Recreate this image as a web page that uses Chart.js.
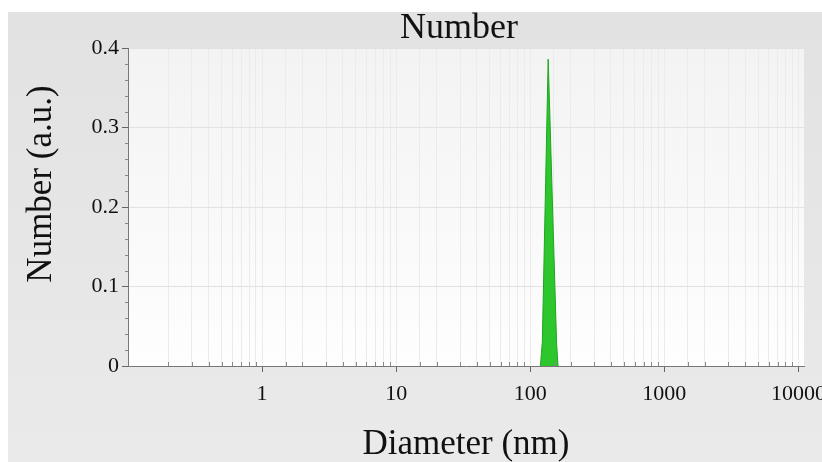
<!DOCTYPE html>
<html>
<head>
<meta charset="utf-8">
<style>
  html, body { margin: 0; padding: 0; background: #ffffff; }
  #wrap { position: absolute; left: 0; top: 0; width: 822px; height: 462px; }
</style>
<script src="https://cdn.jsdelivr.net/npm/chart.js@4.4.0/dist/chart.umd.min.js"></script>
</head>
<body>
<div id="wrap"><canvas id="c" width="822" height="462"></canvas></div>
<script>
// ---- data ----
const diameters = [119, 123, 136, 157, 161];      // nm
const numberValues = [0, 0.03, 0.386, 0.03, 0];   // a.u.
const xTickLabels = [1, 10, 100, 1000, 10000];
const yTickLabels = [0, 0.1, 0.2, 0.3, 0.4];
const chartTitle = 'Number';
const xTitle = 'Diameter (nm)';
const yTitle = 'Number (a.u.)';

const serif = "'Liberation Serif', 'DejaVu Serif', serif";

const points = diameters.map((d, i) => ({ x: d, y: numberValues[i] }));

const isMajorX = v => xTickLabels.some(t => Math.abs(v - t) / t < 1e-6);
const isMajorY = v => Math.abs(v * 10 - Math.round(v * 10)) < 1e-6;

const bgPlugin = {
  id: 'bg',
  beforeDraw(chart) {
    const ctx = chart.ctx;
    const W = chart.width, H = chart.height;
    ctx.save();
    const g = ctx.createLinearGradient(0, 12, 0, H);
    g.addColorStop(0, '#e2e2e2');
    g.addColorStop(1, '#eaeaea');
    ctx.fillStyle = g;
    ctx.fillRect(8, 12, W - 8, H - 12);
    const a = chart.chartArea;
    const g2 = ctx.createLinearGradient(0, a.top, 0, a.bottom);
    g2.addColorStop(0, '#f3f3f3');
    g2.addColorStop(1, '#fefefe');
    ctx.fillStyle = g2;
    ctx.fillRect(a.left, a.top, a.right - a.left, a.bottom - a.top);
    ctx.restore();
  }
};

const decor = {
  id: 'decor',
  afterDraw(chart) {
    const ctx = chart.ctx;
    const xs = chart.scales.x, ys = chart.scales.y;
    const a = chart.chartArea;
    ctx.save();
    // minor tick marks
    ctx.strokeStyle = '#888';
    ctx.lineWidth = 1;
    ctx.beginPath();
    xs.ticks.forEach(t => {
      if (!isMajorX(t.value) && t.value < xs.max && t.value > xs.min) {
        const px = Math.round(xs.getPixelForValue(t.value)) + 0.5;
        ctx.moveTo(px, a.bottom);
        ctx.lineTo(px, a.bottom - 4);
      }
    });
    ys.ticks.forEach(t => {
      if (!isMajorY(t.value)) {
        const py = Math.round(ys.getPixelForValue(t.value)) + 0.5;
        ctx.moveTo(a.left, py);
        ctx.lineTo(a.left - 3, py);
      }
    });
    ctx.stroke();
    // titles
    ctx.fillStyle = '#111';
    ctx.textAlign = 'center';
    ctx.textBaseline = 'middle';
    ctx.font = '36px ' + serif;
    ctx.fillText(chartTitle, 459, 29);
    ctx.font = '35px ' + serif;
    ctx.fillText(xTitle, (a.left + a.right) / 2, 445);
    ctx.translate(42, 184);
    ctx.rotate(-Math.PI / 2);
    ctx.fillText(yTitle, 0, 0);
    ctx.restore();
  }
};

new Chart(document.getElementById('c'), {
  type: 'line',
  data: {
    datasets: [{
      data: points,
      fill: 'origin',
      backgroundColor: '#2dc62d',
      borderColor: '#1fa51f',
      borderWidth: 1,
      pointRadius: 0,
      tension: 0
    }]
  },
  options: {
    responsive: false,
    animation: false,
    layout: { padding: { left: 0, right: 18, top: 48, bottom: 0 } },
    plugins: {
      legend: { display: false },
      tooltip: { enabled: false },
      title: { display: false }
    },
    scales: {
      x: {
        type: 'logarithmic',
        min: 0.1,
        max: 11000,
        afterFit(s) { s.height = 96; },
        border: { color: '#777', width: 1 },
        grid: {
          color: ctx => (ctx.tick && ctx.tick.value > 0.1 && ctx.tick.value < 11000) ? '#ebebeb' : 'rgba(0,0,0,0)',
          tickColor: ctx => (ctx.tick && isMajorX(ctx.tick.value)) ? '#666' : 'rgba(0,0,0,0)',
          tickLength: 6,
          drawTicks: true
        },
        ticks: {
          autoSkip: false,
          maxRotation: 0,
          color: '#111',
          padding: 9,
          font: { family: serif, size: 22 },
          callback: v => isMajorX(v) ? String(v) : ''
        },
        title: { display: false }
      },
      y: {
        min: 0,
        max: 0.4,
        afterFit(s) { s.width = 128; },
        border: { color: '#777', width: 1 },
        grid: {
          color: ctx => (ctx.tick && isMajorY(ctx.tick.value) && ctx.tick.value > 0) ? '#e2e2e2' : 'rgba(0,0,0,0)',
          tickColor: ctx => (ctx.tick && isMajorY(ctx.tick.value)) ? '#666' : 'rgba(0,0,0,0)',
          tickLength: 6
        },
        ticks: {
          stepSize: 0.02,
          autoSkip: false,
          color: '#111',
          padding: 3,
          font: { family: serif, size: 22 },
          callback: v => {
            if (!isMajorY(v)) return '';
            const r = Math.round(v * 10) / 10;
            return yTickLabels.includes(r) ? String(r) : '';
          }
        },
        title: { display: false }
      }
    }
  },
  plugins: [bgPlugin, decor]
});
</script>
</body>
</html>
